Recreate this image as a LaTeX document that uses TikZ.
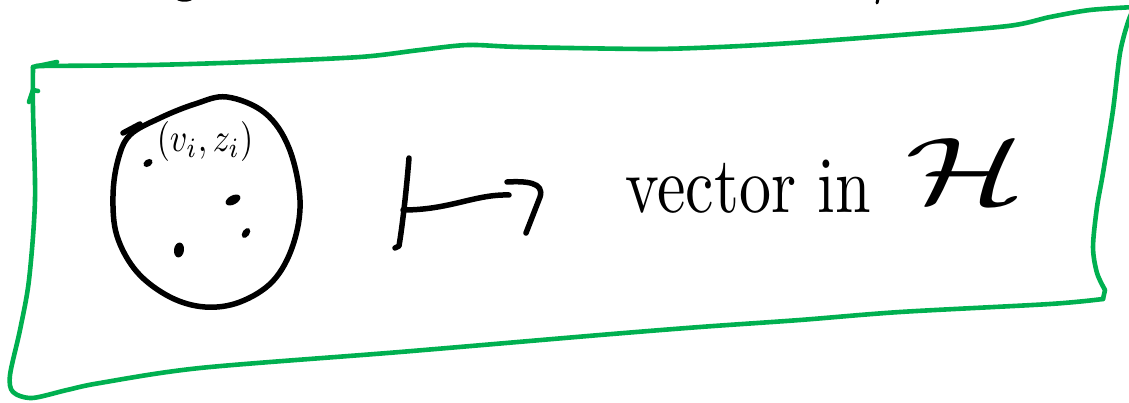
\documentclass[tikz,border=0pt]{standalone}
\usepackage{graphicx}
\begin{document}
\begin{tikzpicture}[x=1pt,y=-1pt,
  green stroke/.style={draw={rgb,255:red,0;green,176;blue,80}, line width=4.6pt, line cap=round, line join=round},
  ink/.style={draw=black, line width=5.5pt, line cap=round, line join=round},
  dot/.style={fill=black},
  label/.style={inner sep=0pt, text=black}]
\fill[white] (0,0) rectangle (1129,403);
\useasboundingbox (0,0) rectangle (1129,403);

% green frame
\draw[green stroke] (29,102) -- (33,90) -- (38,91);
\draw[green stroke] (57,62) -- (33,67);
\draw[green stroke] plot[smooth, tension=0.5] coordinates {(36,66) (150,65) (250,62) (360,57) (420,50) (468,45) (520,47) (648,49) (720,47) (792,43) (900,35) (1008,26) (1050,17) (1090,10) (1135,7)};
\draw[green stroke] plot[smooth, tension=0.5] coordinates {(1134,8) (1128,22) (1120,53) (1113,110) (1103,173) (1097,207) (1093,247) (1097,273) (1105,290)} -- (1103,299);
\draw[green stroke] plot[smooth, tension=0.5] coordinates {(1103,299) (1050,304) (900,312) (800,320) (700,327) (600,335) (400,352) (200,368) (100,383) (67,390) (32,398) (13,392) (10,375) (20,330) (29,280) (35,200) (33,110) (33,67)};

% cut-off marks at the top
\draw[ink, line width=4pt] (175,-4) .. controls (179,1) and (190,1) .. (194,-4);
\draw[ink, line width=3pt] (878,-1) -- (877,3);

% set of points
\coordinate (setc) at (205,205);
\draw[ink] plot[smooth cycle, tension=0.6] coordinates {(227,97) (265,113) (289,148) (300,200) (293,245) (273,281) (240,302) (205,307) (170,297) (137,272) (117,236) (113,196) (118,160) (130,135) (160,118) (195,104)};
\draw[ink] (123,133) -- (140,124);
\fill[dot] (148,163) ellipse [x radius=5, y radius=3.5, rotate=35];
\fill[dot] (233,200) ellipse [x radius=8, y radius=4.5, rotate=28];
\fill[dot] (246,233) ellipse [x radius=5.5, y radius=3.5, rotate=55];
\fill[dot] (179,250) ellipse [x radius=5, y radius=7.5, rotate=-8];
\node[label, xscale=3.4, yscale=4] (vz) at (205,142) {$(v_i, z_i)$};

% maps-to arrow
\coordinate (m0) at (403,210);
\coordinate (m1) at (509,195);
\draw[ink] (409,158) .. controls (406,195) and (402,228) .. (399,246) -- (395,248);
\draw[ink] (m0) .. controls (450,210) and (475,194) .. (m1);
\draw[ink] (507,182) .. controls (525,181) and (545,182) .. (540,197) -- (526,233);

% target
\node[label, xscale=6.4, yscale=8, anchor=base west] (vec) at (624,213) {vector in};
\node[label, xscale=14, yscale=9.5, anchor=base west] (H) at (903,204) {$\mathcal{H}$};
\end{tikzpicture}
\end{document}
